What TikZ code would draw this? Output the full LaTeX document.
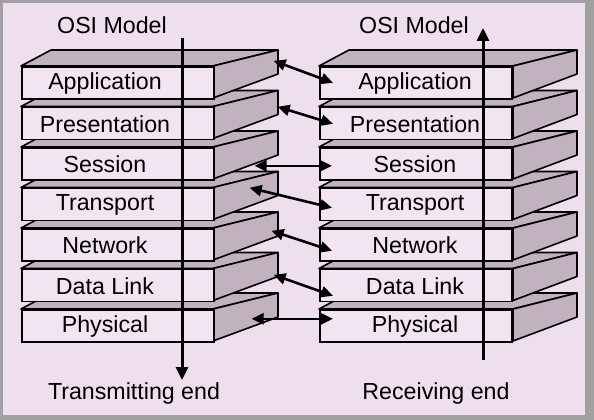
\documentclass[tikz,border=0pt]{standalone}
\usepackage{fontspec}
\setmainfont{Liberation Sans}
\usetikzlibrary{arrows.meta,calc}
\definecolor{bgpink}{HTML}{EFDFEE}
\definecolor{frontpink}{HTML}{F2E4F1}
\definecolor{sidegray}{HTML}{C2B1BE}
\definecolor{framegray}{HTML}{A3A0A3}
\tikzset{
  face/.style={draw=black,line width=1.6pt,line join=round,fill=sidegray},
  front/.style={draw=black,line width=1.6pt,fill=frontpink,rectangle,
    minimum width=192pt,minimum height=32pt,inner sep=0pt,anchor=north west},
  lbl/.style={font=\fontsize{23.2}{27}\selectfont,inner sep=0pt},
  conn/.style={line width=2.6pt,{Triangle[length=12pt,width=11pt]}-{Triangle[length=12pt,width=11pt]}},
  flow/.style={line width=3pt,-{Triangle[length=13pt,width=12pt]}}
}
\begin{document}
\begin{tikzpicture}[x=1pt,y=-1pt]
\useasboundingbox (0,0) rectangle (594,420);
\fill[framegray] (0,0) rectangle (594,420);
\fill[bgpink] (3,3) rectangle (585,415);
% stacks, drawn from bottom layer upward
\foreach \i/\txt in {7/Physical,6/Data Link,5/Network,4/Transport,3/Session,2/Presentation,1/Application}{
  \pgfmathsetmacro{\t}{66+40.5*(\i-1)}
  % left stack
  \path[face] (21,\t) -- (51,\t-16) -- (278,\t-16) -- (213,\t) -- cycle;
  \path[face] (213,\t) -- (278,\t-16) -- (278,\t+8) -- (213,\t+32) -- cycle;
  \node[front] (L\i) at (21,\t) {};
  \node[lbl] (LT\i) at (105,\t+17.5) {\txt};
  % right stack
  \path[face] (319,\t) -- (349,\t-16) -- (577,\t-16) -- (513,\t) -- cycle;
  \path[face] (513,\t) -- (577,\t-16) -- (577,\t+8) -- (513,\t+32) -- cycle;
  \node[front] (R\i) at (319,\t) {};
  \node[lbl] (RT\i) at (415,\t+17.5) {\txt};
}
% titles
\node[lbl] (lt) at (112,25) {OSI Model};
\node[lbl] (rt) at (414,25) {OSI Model};
\node[lbl] (te) at (134,393) {Transmitting end};
\node[lbl] (re) at (436,393) {Receiving end};
% flow lines
\coordinate (ls) at (182,38);
\coordinate (le) at (182,380);
\coordinate (rs) at (483,360);
\coordinate (rend) at (483,28);
\draw[flow] (ls) -- (le);
\draw[flow] (rs) -- (rend);
% peer connectors
\draw[conn] ($(L1.east)+(59,-22)$) -- ($(R1.west)+(14,0)$);
\draw[conn] ($(L2.east)+(63,-16.5)$) -- ($(R2.west)+(14,0.5)$);
\draw[conn] ($(L3.east)+(40,2)$) -- ($(R3.west)+(13,2)$);
\draw[conn] ($(L4.east)+(35,-16.5)$) -- ($(R4.west)+(13,3.5)$);
\draw[conn] ($(L5.east)+(57,-14)$) -- ($(R5.west)+(13,6)$);
\draw[conn] ($(L6.east)+(59,-10.5)$) -- ($(R6.west)+(14,10.5)$);
\draw[conn] ($(L7.east)+(37,-7)$) -- ($(R7.west)+(14,-7)$);
\end{tikzpicture}
\end{document}
